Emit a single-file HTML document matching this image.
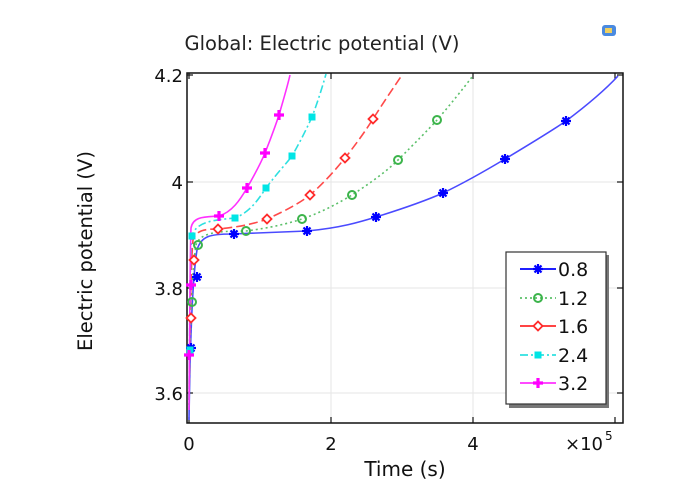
<!DOCTYPE html>
<html><head><meta charset="utf-8"><style>
body{margin:0;background:#fff;}
svg{display:block;font-family:"DejaVu Sans","Liberation Sans",sans-serif;}
</style></head><body>
<svg width="684" height="484" xmlns="http://www.w3.org/2000/svg">
<defs>
<g id="star"><path d="M-5,0H5M0,-5V5M-3.5,-3.5L3.5,3.5M-3.5,3.5L3.5,-3.5" stroke="#0000ff" stroke-width="2.2"/></g>
<g id="circ"><circle r="4" fill="none" stroke="#3cb44b" stroke-width="2"/></g>
<g id="diam"><path d="M0,-4.5L4.5,0L0,4.5L-4.5,0Z" fill="#fff" stroke="#ff2a2a" stroke-width="1.8"/></g>
<g id="sq"><rect x="-3.5" y="-3.5" width="7" height="7" fill="#00e5e5"/></g>
<g id="plus"><path d="M-5,0H5M0,-5V5" stroke="#ff00ff" stroke-width="3.2"/></g>
</defs>
<text x="322" y="50" font-size="19.5" text-anchor="middle" fill="#222">Global: Electric potential (V)</text>
<rect x="602" y="25" width="14" height="11" rx="3" fill="#4a8ae0"/>
<rect x="605" y="28" width="7" height="5" fill="#f0d060"/>
<!-- grid -->
<g stroke="#e6e6e6" stroke-width="1">
<line x1="331" y1="73" x2="331" y2="423"/><line x1="473" y1="73" x2="473" y2="423"/>
<line x1="187" y1="182" x2="623" y2="182"/><line x1="187" y1="288" x2="623" y2="288"/><line x1="187" y1="393" x2="623" y2="393"/>
</g>
<rect x="187" y="73" width="436" height="350" fill="none" stroke="#111" stroke-width="1.5"/>
<g stroke="#111" stroke-width="1.2">
<line x1="189" y1="423" x2="189" y2="417"/><line x1="331" y1="423" x2="331" y2="417"/><line x1="473" y1="423" x2="473" y2="417"/><line x1="615" y1="423" x2="615" y2="417"/>
<line x1="189" y1="73" x2="189" y2="79"/><line x1="331" y1="73" x2="331" y2="79"/><line x1="473" y1="73" x2="473" y2="79"/><line x1="615" y1="73" x2="615" y2="79"/>
<line x1="187" y1="75" x2="193" y2="75"/><line x1="187" y1="182" x2="193" y2="182"/><line x1="187" y1="288" x2="193" y2="288"/><line x1="187" y1="393" x2="193" y2="393"/>
<line x1="623" y1="75" x2="617" y2="75"/><line x1="623" y1="182" x2="617" y2="182"/><line x1="623" y1="288" x2="617" y2="288"/><line x1="623" y1="393" x2="617" y2="393"/>
</g>
<g font-size="18" fill="#111" text-anchor="end">
<text x="183" y="82">4.2</text><text x="183" y="189">4</text><text x="183" y="295">3.8</text><text x="183" y="400">3.6</text>
</g>
<g font-size="18" fill="#111" text-anchor="middle">
<text x="189" y="450">0</text><text x="331" y="450">2</text><text x="473" y="450">4</text>
<text x="584" y="450">×10</text>
</g>
<text x="605" y="440" font-size="12" fill="#111">5</text>
<text x="405" y="476" font-size="20" text-anchor="middle" fill="#111">Time (s)</text>
<text transform="translate(92,251) rotate(-90)" font-size="19.5" text-anchor="middle" fill="#111">Electric potential (V)</text>
<!-- curves -->
<g fill="none" stroke-width="1.6">
<path d="M189,420 C190,350 192,280 197,250 C201,236 210,234 232,234 L307,231 C340,228 360,222 376,217 C405,208 425,201 443,193 C470,180 490,168 505,159 C530,144 550,132 566,121 C590,103 605,90 618,76" stroke="#4a4aff"/>
<path d="M189,405 C190,330 192,270 196,245 C200,233 215,231 246,231 C270,228 290,223 302,219 C325,211 340,202 352,195 C372,182 388,170 398,160 C415,143 428,130 437,120 C450,105 462,90 472,77" stroke="#5cc06a" stroke-dasharray="2,3"/>
<path d="M189,400 C190,320 191,260 193,240 C196,230 205,229 218,229 C240,227 257,223 267,219 C285,211 300,203 310,195 C325,182 337,168 345,158 C357,143 366,130 373,119 C385,100 394,87 402,75" stroke="#ff4a4a" stroke-dasharray="9,4"/>
<path d="M189,400 C190,300 190,250 192,236 C196,221 215,220 235,218 C250,212 258,200 266,188 C278,172 286,164 292,156 C300,142 306,130 312,117 C318,101 322,88 326,74" stroke="#2ee0e0" stroke-dasharray="8,3,2,3"/>
<path d="M189,410 C190,300 190,250 191,228 C193,216 205,217 219,216 C232,212 240,200 247,188 C255,174 260,165 265,153 C271,138 275,127 279,115 C283,101 287,88 290,75" stroke="#ff30ff"/>
</g>
<g>
<use href="#star" x="191" y="348"/><use href="#star" x="197" y="277"/><use href="#star" x="234" y="234"/><use href="#star" x="307" y="231"/><use href="#star" x="376" y="217"/><use href="#star" x="443" y="193"/><use href="#star" x="505" y="159"/><use href="#star" x="566" y="121"/>
<use href="#circ" x="192" y="302"/><use href="#circ" x="198" y="245"/><use href="#circ" x="246" y="231"/><use href="#circ" x="302" y="219"/><use href="#circ" x="352" y="195"/><use href="#circ" x="398" y="160"/><use href="#circ" x="437" y="120"/>
<use href="#diam" x="191" y="318"/><use href="#diam" x="194" y="260"/><use href="#diam" x="218" y="229"/><use href="#diam" x="267" y="219"/><use href="#diam" x="310" y="195"/><use href="#diam" x="345" y="158"/><use href="#diam" x="373" y="119"/>
<use href="#sq" x="190" y="350"/><use href="#sq" x="192" y="236"/><use href="#sq" x="235" y="218"/><use href="#sq" x="266" y="188"/><use href="#sq" x="292" y="156"/><use href="#sq" x="312" y="117"/>
<use href="#plus" x="189" y="355"/><use href="#plus" x="191" y="285"/><use href="#plus" x="219" y="216"/><use href="#plus" x="247" y="188"/><use href="#plus" x="265" y="153"/><use href="#plus" x="279" y="115"/>
</g>
<!-- legend -->
<rect x="509" y="255" width="100" height="153" fill="#777"/>
<rect x="506" y="252" width="100" height="152" fill="#fff" stroke="#333" stroke-width="1.2"/>
<g font-size="19" fill="#111">
<line x1="520" y1="269" x2="556" y2="269" stroke="#0000ff" stroke-width="1.8"/><use href="#star" x="538" y="269"/><text x="558" y="276">0.8</text>
<line x1="520" y1="298" x2="556" y2="298" stroke="#5cc06a" stroke-width="1.8" stroke-dasharray="2,3"/><use href="#circ" x="538" y="298"/><text x="558" y="305">1.2</text>
<line x1="520" y1="326" x2="556" y2="326" stroke="#ff2a2a" stroke-width="1.8"/><use href="#diam" x="538" y="326"/><text x="558" y="333">1.6</text>
<line x1="520" y1="355" x2="556" y2="355" stroke="#2ee0e0" stroke-width="1.8" stroke-dasharray="8,3,2,3"/><use href="#sq" x="538" y="355"/><text x="558" y="362">2.4</text>
<line x1="520" y1="383" x2="556" y2="383" stroke="#ff30ff" stroke-width="1.8"/><use href="#plus" x="538" y="383"/><text x="558" y="390">3.2</text>
</g>
</svg>
</body></html>
